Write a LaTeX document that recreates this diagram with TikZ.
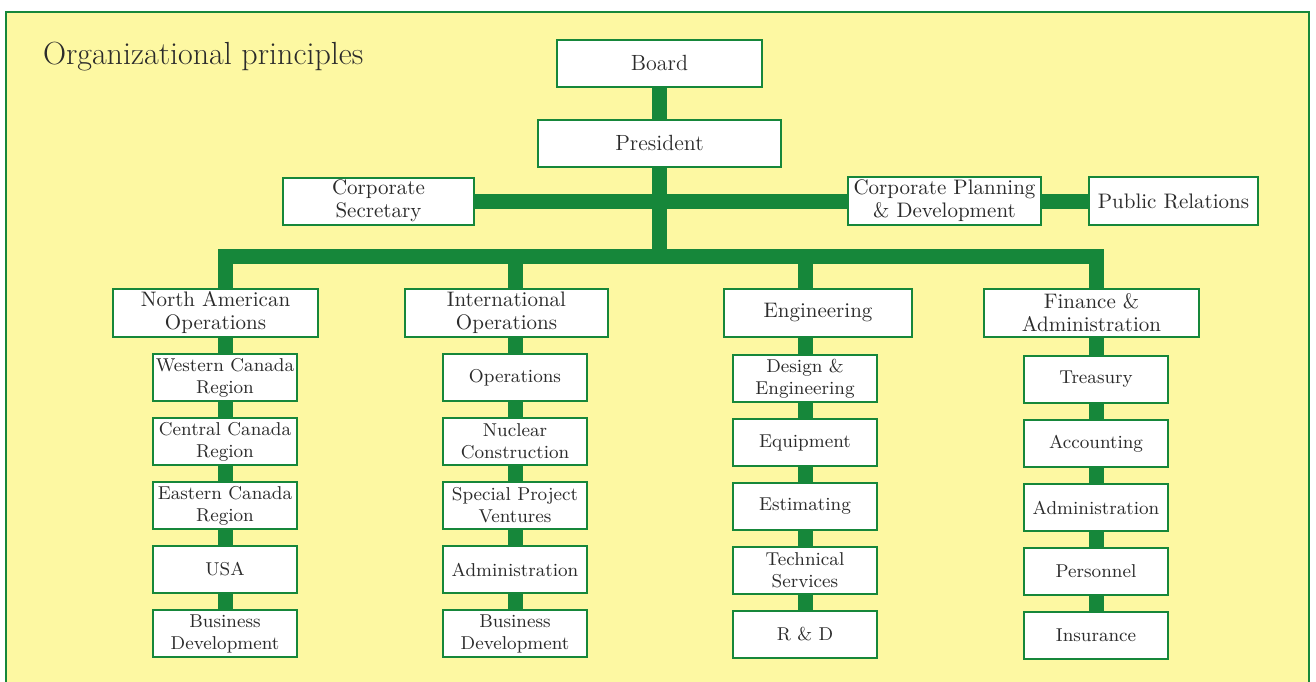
\documentclass[tikz,border=0pt]{standalone}
\usetikzlibrary{positioning, backgrounds}
\definecolor{ChartGreen}{HTML}{16873A}
\definecolor{ChartYellow}{HTML}{FDF8A2}
\definecolor{ChartInk}{HTML}{2B2B2B}

\begin{document}
\begin{tikzpicture}[x=0.5pt, y=-0.5pt,
			every node/.style={align=center, draw=ChartGreen, line width=1pt, fill=white, rectangle, inner sep=0pt, text=ChartInk},
			head/.style={font=\fontsize{11}{13}\selectfont, minimum height=23.5pt},
			staff/.style={font=\fontsize{10.5}{11.5}\selectfont, minimum height=24pt},
			dept/.style={font=\fontsize{10.5}{11.5}\selectfont, minimum height=24pt},
			unit/.style={font=\fontsize{9.3}{11}\selectfont, minimum width=72pt, minimum height=23.5pt},
			link/.style={draw=ChartGreen, line width=7.5pt}
		]
			\useasboundingbox (0,0) rectangle (1316,681);

			\node (title) [draw=none, fill=none, anchor=base west, font=\fontsize{16}{19}\selectfont] at (42,64) {Organizational principles};

			\node (board) [head, minimum width=102.5pt] at (659.5,63) {Board};
			\node (pres) [head, minimum width=121.5pt] at (659.5,143) {President};

			\node (secr) [staff, minimum width=95.5pt, minimum height=23.5pt] at (378.5,201) {Corporate\\Secretary};
			\node (plan) [staff, minimum width=96.5pt] at (944.5,201) {Corporate Planning\\\& Development};
			\node (pr) [staff, minimum width=84.5pt] at (1173.5,201) {Public Relations};
			\coordinate (bus) at (660,256);

			\node (nao) [dept, minimum width=102.5pt] at (215.5,313) {North American\\Operations};
			\node (intl) [dept, minimum width=101.5pt] at (506.5,313) {International\\Operations};
			\node (eng) [dept, minimum width=94pt] at (818,313) {Engineering};
			\node (fin) [dept, minimum width=107.5pt] at (1091.5,313) {Finance \&\\Administration};

			\node (nao1) [unit] at (225,377.5) {Western Canada\\Region};
			\node (nao2) [unit, below=7.5pt of nao1] {Central Canada\\Region};
			\node (nao3) [unit, below=7.5pt of nao2] {Eastern Canada\\Region};
			\node (nao4) [unit, below=7.5pt of nao3] {USA};
			\node (nao5) [unit, below=7.5pt of nao4] {Business\\Development};

			\node (intl1) [unit] at (515,377.5) {Operations};
			\node (intl2) [unit, below=7.5pt of intl1] {Nuclear\\Construction};
			\node (intl3) [unit, below=7.5pt of intl2] {Special Project\\Ventures};
			\node (intl4) [unit, below=7.5pt of intl3] {Administration};
			\node (intl5) [unit, below=7.5pt of intl4] {Business\\Development};

			\node (eng1) [unit] at (805,378.5) {Design \&\\Engineering};
			\node (eng2) [unit, below=7.5pt of eng1] {Equipment};
			\node (eng3) [unit, below=7.5pt of eng2] {Estimating};
			\node (eng4) [unit, below=7.5pt of eng3] {Technical\\Services};
			\node (eng5) [unit, below=7.5pt of eng4] {R \& D};

			\node (fin1) [unit] at (1096,379.5) {Treasury};
			\node (fin2) [unit, below=7.5pt of fin1] {Accounting};
			\node (fin3) [unit, below=7.5pt of fin2] {Administration};
			\node (fin4) [unit, below=7.5pt of fin3] {Personnel};
			\node (fin5) [unit, below=7.5pt of fin4] {Insurance};

			\begin{scope}[on background layer]
				\fill[ChartYellow, draw=ChartGreen, line width=1pt] (6,12) rectangle (1309,700);

				\draw[link] (board) -- (board |- bus);
				\draw[link] (secr) -- (pr);
				\draw[link] (nao5) -- (nao1 |- bus) -- (fin1 |- bus) -- (fin5);
				\draw[link] (intl1 |- bus) -- (intl5);
				\draw[link] (eng1 |- bus) -- (eng5);
			\end{scope}
		\end{tikzpicture}
\end{document}
